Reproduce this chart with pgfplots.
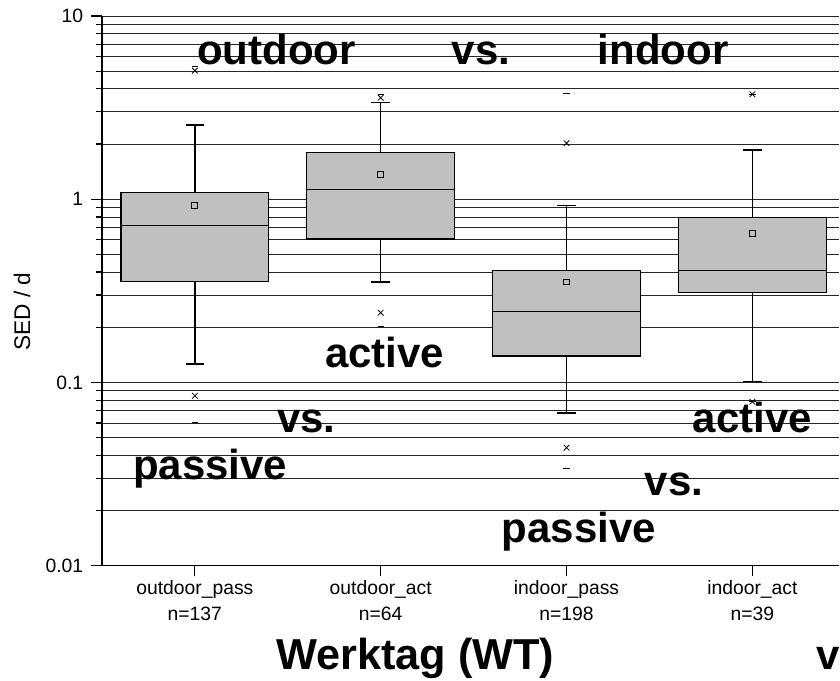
\documentclass[border=0pt]{standalone}
\usepackage{pgfplots}
\pgfplotsset{compat=1.18}
\usepackage{fontspec}
\setmainfont{Liberation Sans}
\definecolor{boxgray}{RGB}{192,192,192}

\pgfplotsset{
  boxbody/.style={draw=black, fill=boxgray, line width=1pt},
  whisk/.style={draw=black, line width=1pt, mark=none},
}

\begin{document}
\begin{tikzpicture}
\begin{axis}[
  at={(0pt,0pt)}, anchor=south west,
  scale only axis, width=553.5pt, height=412.5pt,
  xmin=-0.5, xmax=3.4677,
  ymode=log, ymin=0.01, ymax=10,
  axis x line*=bottom, axis y line*=left,
  axis line style={-, black, line width=1pt},
  tick style={black, line width=0.9pt},
  tick align=outside,
  major tick length=8pt, minor tick length=4.5pt,
  xtick={0,1,2,3},
  xticklabels={outdoor\_pass\\n=137, outdoor\_act\\n=64, indoor\_pass\\n=198, indoor\_act\\n=39},
  xticklabel style={align=center, font=\fontsize{14.5}{19.5}\selectfont},
  ytick={0.01,0.1,1,10},
  yticklabels={0.01,0.1,1,10},
  minor ytick={0.02,0.03,0.04,0.05,0.06,0.07,0.08,0.09,
               0.2,0.3,0.4,0.5,0.6,0.7,0.8,0.9,
               2,3,4,5,6,7,8,9},
  yticklabel style={font=\fontsize{14.5}{16}\selectfont, xshift=-2.5pt},
  ymajorgrids, yminorgrids,
  major grid style={black!85, line width=0.6pt},
  minor grid style={black!85, line width=0.6pt},
  ylabel={SED / d},
  every axis y label/.style={at={(axis description cs:-0.1084,0.462)}, rotate=90, anchor=center,
    font=\fontsize{17}{19}\selectfont},
]
% --- outdoor_pass: whiskers 0.126 / 2.54, quartiles 0.354 / 1.087, median 0.721
\addplot[whisk] coordinates {(0,1.087) (0,2.54)};
\addplot[whisk] coordinates {(-0.05,2.54) (0.05,2.54)};
\addplot[whisk] coordinates {(0,0.354) (0,0.126)};
\addplot[whisk] coordinates {(-0.05,0.126) (0.05,0.126)};
\addplot[boxbody] coordinates {(-0.398,0.354) (0.398,0.354) (0.398,1.087) (-0.398,1.087)} -- cycle;
\addplot[whisk] coordinates {(-0.398,0.721) (0.398,0.721)};
% --- outdoor_act: whiskers 0.353 / 3.37, quartiles 0.605 / 1.805, median 1.129
\addplot[whisk] coordinates {(1,1.805) (1,3.37)};
\addplot[whisk] coordinates {(0.95,3.37) (1.05,3.37)};
\addplot[whisk] coordinates {(1,0.605) (1,0.353)};
\addplot[whisk] coordinates {(0.95,0.353) (1.05,0.353)};
\addplot[boxbody] coordinates {(0.602,0.605) (1.398,0.605) (1.398,1.805) (0.602,1.805)} -- cycle;
\addplot[whisk] coordinates {(0.602,1.129) (1.398,1.129)};
% --- indoor_pass: whiskers 0.068 / 0.924, quartiles 0.139 / 0.408, median 0.243
\addplot[whisk] coordinates {(2,0.408) (2,0.924)};
\addplot[whisk] coordinates {(1.95,0.924) (2.05,0.924)};
\addplot[whisk] coordinates {(2,0.139) (2,0.068)};
\addplot[whisk] coordinates {(1.95,0.068) (2.05,0.068)};
\addplot[boxbody] coordinates {(1.602,0.139) (2.398,0.139) (2.398,0.408) (1.602,0.408)} -- cycle;
\addplot[whisk] coordinates {(1.602,0.243) (2.398,0.243)};
% --- indoor_act: whiskers 0.1008 / 1.858, quartiles 0.31 / 0.794, median 0.408
\addplot[whisk] coordinates {(3,0.794) (3,1.858)};
\addplot[whisk] coordinates {(2.95,1.858) (3.05,1.858)};
\addplot[whisk] coordinates {(3,0.31) (3,0.1008)};
\addplot[whisk] coordinates {(2.95,0.1008) (3.05,0.1008)};
\addplot[boxbody] coordinates {(2.602,0.31) (3.398,0.31) (3.398,0.794) (2.602,0.794)} -- cycle;
\addplot[whisk] coordinates {(2.602,0.408) (3.398,0.408)};
% means
\addplot[only marks, mark=square, mark size=2.2pt, mark options={black, line width=0.7pt, fill=none}]
  coordinates {(0,0.92) (1,1.357) (2,0.353) (3,0.653)};
% 1st and 99th percentiles
\addplot[only marks, mark=x, mark size=3pt, mark options={black, line width=0.6pt}]
  coordinates {(0,5.03) (0,0.0845) (1,3.58) (1,0.240) (2,2.02) (2,0.044) (3,3.74) (3,0.0784)};
% minimum and maximum
\addplot[only marks, mark=-, mark size=2.4pt, mark options={black, line width=0.7pt}]
  coordinates {(0,5.33) (0,0.0605) (1,3.75) (1,0.202) (2,3.78) (2,0.034) (3,3.74) (3,0.0784)};
\end{axis}
% group captions (positions in px, 1px = 0.75pt, from the lower left corner of the plot area)
\begin{scope}[x=0.75pt, y=0.75pt, every node/.style={anchor=base west, inner sep=0pt, font=\fontsize{31.5}{34}\selectfont\bfseries}]
\node at (95,501) {outdoor};
\node at (350,501) {vs.};
\node at (496,501) {indoor};
\node at (223,198) {active};
\node at (175,133) {vs.};
\node at (31,86) {passive};
\node at (591,133) {active};
\node at (543,70) {vs.};
\node at (400,23) {passive};
\node[font=\fontsize{32.5}{35}\selectfont\bfseries] at (174,-104) {Werktag (WT)};
\node at (715,-104) {v};
% page frame
\path (-102,-115) rectangle (738,566);
\end{scope}
\end{tikzpicture}
\end{document}
